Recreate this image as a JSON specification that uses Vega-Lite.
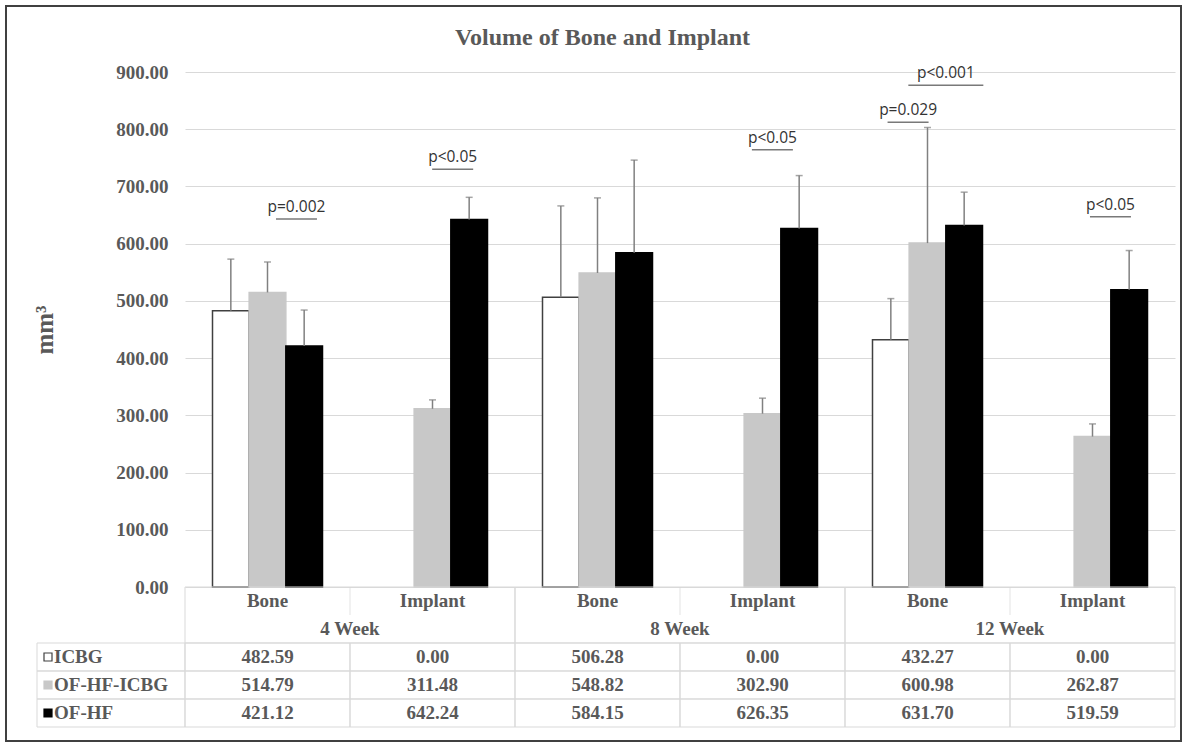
{
  "$schema": "https://vega.github.io/schema/vega-lite/v6.json",
  "width": 1175,
  "height": 735,
  "autosize": {"type": "none"},
  "padding": {"left": 6, "top": 6, "right": 5, "bottom": 6},
  "background": "white",
  "config": {"view": {"stroke": "#404040", "strokeWidth": 2}, "font": "Liberation Serif"},
  "title": {"text": "Volume of Bone and Implant", "font": "Liberation Serif", "fontSize": 24, "fontWeight": "bold", "color": "#595959", "anchor": "middle", "offset": -56, "baseline": "middle", "dx": 9},
  "datasets": {
    "bars": [
      {"week": "4 Week", "part": "Bone", "cat": "4 Week Bone", "series": "ICBG", "value": 482.59, "upper": 573},
      {"week": "4 Week", "part": "Bone", "cat": "4 Week Bone", "series": "OF-HF-ICBG", "value": 514.79, "upper": 568},
      {"week": "4 Week", "part": "Bone", "cat": "4 Week Bone", "series": "OF-HF", "value": 421.12, "upper": 484},
      {"week": "4 Week", "part": "Implant", "cat": "4 Week Implant", "series": "ICBG", "value": 0, "upper": 0},
      {"week": "4 Week", "part": "Implant", "cat": "4 Week Implant", "series": "OF-HF-ICBG", "value": 311.48, "upper": 327},
      {"week": "4 Week", "part": "Implant", "cat": "4 Week Implant", "series": "OF-HF", "value": 642.24, "upper": 681},
      {"week": "8 Week", "part": "Bone", "cat": "8 Week Bone", "series": "ICBG", "value": 506.28, "upper": 666},
      {"week": "8 Week", "part": "Bone", "cat": "8 Week Bone", "series": "OF-HF-ICBG", "value": 548.82, "upper": 680},
      {"week": "8 Week", "part": "Bone", "cat": "8 Week Bone", "series": "OF-HF", "value": 584.15, "upper": 746},
      {"week": "8 Week", "part": "Implant", "cat": "8 Week Implant", "series": "ICBG", "value": 0, "upper": 0},
      {"week": "8 Week", "part": "Implant", "cat": "8 Week Implant", "series": "OF-HF-ICBG", "value": 302.90, "upper": 330},
      {"week": "8 Week", "part": "Implant", "cat": "8 Week Implant", "series": "OF-HF", "value": 626.35, "upper": 719},
      {"week": "12 Week", "part": "Bone", "cat": "12 Week Bone", "series": "ICBG", "value": 432.27, "upper": 504},
      {"week": "12 Week", "part": "Bone", "cat": "12 Week Bone", "series": "OF-HF-ICBG", "value": 600.98, "upper": 803},
      {"week": "12 Week", "part": "Bone", "cat": "12 Week Bone", "series": "OF-HF", "value": 631.70, "upper": 690},
      {"week": "12 Week", "part": "Implant", "cat": "12 Week Implant", "series": "ICBG", "value": 0, "upper": 0},
      {"week": "12 Week", "part": "Implant", "cat": "12 Week Implant", "series": "OF-HF-ICBG", "value": 262.87, "upper": 285},
      {"week": "12 Week", "part": "Implant", "cat": "12 Week Implant", "series": "OF-HF", "value": 519.59, "upper": 588}
    ],
    "annot": [
      {"cat": "4 Week Bone", "level": 643, "pos": 3.04, "label": "p=0.002", "span": 1},
      {"cat": "4 Week Implant", "level": 730, "pos": 2.8, "label": "p<0.05", "span": 1},
      {"cat": "8 Week Implant", "level": 764, "pos": 2.52, "label": "p<0.05", "span": 1},
      {"cat": "12 Week Bone", "level": 812, "pos": 1.72, "label": "p=0.029", "span": 1},
      {"cat": "12 Week Bone", "level": 877, "pos": 2.75, "label": "p<0.001", "span": 2},
      {"cat": "12 Week Implant", "level": 647, "pos": 2.74, "label": "p<0.05", "span": 1}
    ]
  },
  "resolve": {"scale": {"x": "independent", "y": "independent", "xOffset": "independent"}},
  "layer": [
    {
      "data": {"name": "bars"},
      "transform": [{"filter": "datum.value > 0"}],
      "mark": {"type": "bar", "strokeWidth": 1.5},
      "encoding": {
        "x": {"field": "cat", "type": "nominal", "scale": {"domain": ["4 Week Bone", "4 Week Implant", "8 Week Bone", "8 Week Implant", "12 Week Bone", "12 Week Implant"], "range": [179, 1169], "paddingInner": 0, "paddingOuter": 0}, "axis": null},
        "xOffset": {"field": "series", "type": "nominal", "scale": {"domain": ["ICBG", "OF-HF-ICBG", "OF-HF"], "paddingInner": 0, "paddingOuter": 0.75}},
        "y": {"field": "value", "type": "quantitative", "scale": {"domain": [0, 900], "range": [581, 66], "nice": false, "zero": false},
          "axis": {"values": [0, 100, 200, 300, 400, 500, 600, 700, 800, 900], "format": ".2f", "offset": -179, "domain": false, "ticks": false, "grid": true, "gridColor": "#d9d9d9", "gridWidth": 1, "labelFont": "Liberation Serif", "labelFontWeight": "bold", "labelFontSize": 19, "labelColor": "#595959", "labelPadding": 17, "title": "mm³", "titleFont": "Liberation Serif", "titleFontWeight": "bold", "titleFontSize": 25, "titleColor": "#595959", "titlePadding": 58}},
        "fill": {"field": "series", "type": "nominal", "scale": {"domain": ["ICBG", "OF-HF-ICBG", "OF-HF"], "range": ["#ffffff", "#c8c8c8", "#000000"]}, "legend": null},
        "stroke": {"field": "series", "type": "nominal", "scale": {"domain": ["ICBG", "OF-HF-ICBG", "OF-HF"], "range": ["#404040", "#c8c8c8", "#000000"]}, "legend": null}
      }
    },
    {
      "data": {"name": "bars"},
      "transform": [{"filter": "datum.value > 0"}],
      "mark": {"type": "rule", "color": "#808080", "strokeWidth": 1.5},
      "encoding": {
        "x": {"field": "cat", "type": "nominal", "scale": {"domain": ["4 Week Bone", "4 Week Implant", "8 Week Bone", "8 Week Implant", "12 Week Bone", "12 Week Implant"], "range": [179, 1169], "paddingInner": 0, "paddingOuter": 0}, "axis": null},
        "xOffset": {"field": "series", "type": "nominal", "scale": {"domain": ["ICBG", "OF-HF-ICBG", "OF-HF"], "paddingInner": 0, "paddingOuter": 0.75}},
        "y": {"field": "value", "type": "quantitative", "scale": {"domain": [0, 900], "range": [581, 66], "nice": false, "zero": false}, "axis": null},
        "y2": {"field": "upper"}
      }
    },
    {
      "data": {"name": "bars"},
      "transform": [{"filter": "datum.value > 0"}],
      "mark": {"type": "tick", "orient": "horizontal", "color": "#808080", "size": 7, "thickness": 1.5},
      "encoding": {
        "x": {"field": "cat", "type": "nominal", "scale": {"domain": ["4 Week Bone", "4 Week Implant", "8 Week Bone", "8 Week Implant", "12 Week Bone", "12 Week Implant"], "range": [179, 1169], "paddingInner": 0, "paddingOuter": 0}, "axis": null},
        "xOffset": {"field": "series", "type": "nominal", "scale": {"domain": ["ICBG", "OF-HF-ICBG", "OF-HF"], "paddingInner": 0, "paddingOuter": 0.75}},
        "y": {"field": "upper", "type": "quantitative", "scale": {"domain": [0, 900], "range": [581, 66], "nice": false, "zero": false}, "axis": null}
      }
    },
    {
      "data": {"name": "annot"},
      "mark": {"type": "tick", "orient": "horizontal", "color": "#404040", "thickness": 1.5},
      "encoding": {
        "x": {"field": "cat", "type": "nominal", "scale": {"domain": ["4 Week Bone", "4 Week Implant", "8 Week Bone", "8 Week Implant", "12 Week Bone", "12 Week Implant"], "range": [179, 1169], "paddingInner": 0, "paddingOuter": 0}, "axis": null},
        "xOffset": {"field": "pos", "type": "quantitative", "scale": {"domain": [0, 4.5], "range": [0, 165], "nice": false, "zero": false}},
        "y": {"field": "level", "type": "quantitative", "scale": {"domain": [0, 900], "range": [581, 66], "nice": false, "zero": false}, "axis": null},
        "size": {"field": "span", "type": "quantitative", "scale": {"domain": [1, 2], "range": [41, 75]}, "legend": null}
      }
    },
    {
      "data": {"name": "annot"},
      "mark": {"type": "text", "font": "Open Sans", "fontSize": 15.5, "color": "#333333", "baseline": "alphabetic", "dy": -7},
      "encoding": {
        "x": {"field": "cat", "type": "nominal", "scale": {"domain": ["4 Week Bone", "4 Week Implant", "8 Week Bone", "8 Week Implant", "12 Week Bone", "12 Week Implant"], "range": [179, 1169], "paddingInner": 0, "paddingOuter": 0}, "axis": null},
        "xOffset": {"field": "pos", "type": "quantitative", "scale": {"domain": [0, 4.5], "range": [0, 165], "nice": false, "zero": false}},
        "y": {"field": "level", "type": "quantitative", "scale": {"domain": [0, 900], "range": [581, 66], "nice": false, "zero": false}, "axis": null},
        "text": {"field": "label"}
      }
    },
    {
      "data": {"name": "bars"},
      "transform": [{"filter": "datum.series === 'ICBG' && datum.part === 'Bone'"}],
      "mark": {"type": "rect", "filled": false, "stroke": "#d9d9d9", "strokeWidth": 1},
      "encoding": {
        "x": {"field": "week", "type": "nominal", "scale": {"domain": ["4 Week", "8 Week", "12 Week"], "range": [179, 1169], "paddingInner": 0, "paddingOuter": 0}, "axis": null},
        "y": {"datum": "head", "type": "nominal", "scale": {"domain": ["head"], "range": [581, 637], "paddingInner": 0, "paddingOuter": 0}, "axis": null}
      }
    },
    {
      "data": {"name": "bars"},
      "transform": [{"filter": "datum.series === 'ICBG' && datum.part === 'Bone'"}],
      "mark": {"type": "text", "font": "Liberation Serif", "fontWeight": "bold", "fontSize": 19, "color": "#595959", "baseline": "middle"},
      "encoding": {
        "x": {"field": "week", "type": "nominal", "scale": {"domain": ["4 Week", "8 Week", "12 Week"], "range": [179, 1169], "paddingInner": 0, "paddingOuter": 0}, "axis": null},
        "y": {"datum": "week", "type": "nominal", "scale": {"domain": ["sub", "week"], "range": [581, 637], "paddingInner": 0, "paddingOuter": 0}, "axis": null},
        "text": {"field": "week"}
      }
    },
    {
      "data": {"name": "bars"},
      "transform": [{"filter": "datum.series === 'ICBG'"}],
      "mark": {"type": "text", "font": "Liberation Serif", "fontWeight": "bold", "fontSize": 19, "color": "#595959", "baseline": "middle"},
      "encoding": {
        "x": {"field": "cat", "type": "nominal", "scale": {"domain": ["4 Week Bone", "4 Week Implant", "8 Week Bone", "8 Week Implant", "12 Week Bone", "12 Week Implant"], "range": [179, 1169], "paddingInner": 0, "paddingOuter": 0}, "axis": null},
        "y": {"datum": "sub", "type": "nominal", "scale": {"domain": ["sub", "week"], "range": [581, 637], "paddingInner": 0, "paddingOuter": 0}, "axis": null},
        "text": {"field": "part"}
      }
    },
    {
      "data": {"name": "bars"},
      "transform": [{"filter": "datum.series === 'ICBG' && datum.part === 'Bone'"}],
      "mark": {"type": "tick", "orient": "vertical", "color": "#d9d9d9", "size": 28, "thickness": 1},
      "encoding": {
        "x": {"field": "week", "type": "nominal", "scale": {"domain": ["4 Week", "8 Week", "12 Week"], "range": [179, 1169], "paddingInner": 0, "paddingOuter": 0}, "axis": null},
        "y": {"datum": "sub", "type": "nominal", "scale": {"domain": ["sub", "week"], "range": [581, 637], "paddingInner": 0, "paddingOuter": 0}, "axis": null}
      }
    },
    {
      "data": {"name": "bars"},
      "mark": {"type": "rect", "filled": false, "stroke": "#d9d9d9", "strokeWidth": 1},
      "encoding": {
        "x": {"field": "cat", "type": "nominal", "scale": {"domain": ["4 Week Bone", "4 Week Implant", "8 Week Bone", "8 Week Implant", "12 Week Bone", "12 Week Implant"], "range": [179, 1169], "paddingInner": 0, "paddingOuter": 0}, "axis": null},
        "y": {"field": "series", "type": "nominal", "scale": {"domain": ["ICBG", "OF-HF-ICBG", "OF-HF"], "range": [637, 721], "paddingInner": 0, "paddingOuter": 0}, "axis": null}
      }
    },
    {
      "data": {"name": "bars"},
      "mark": {"type": "text", "font": "Liberation Serif", "fontWeight": "bold", "fontSize": 19, "color": "#595959", "baseline": "middle"},
      "encoding": {
        "x": {"field": "cat", "type": "nominal", "scale": {"domain": ["4 Week Bone", "4 Week Implant", "8 Week Bone", "8 Week Implant", "12 Week Bone", "12 Week Implant"], "range": [179, 1169], "paddingInner": 0, "paddingOuter": 0}, "axis": null},
        "y": {"field": "series", "type": "nominal", "scale": {"domain": ["ICBG", "OF-HF-ICBG", "OF-HF"], "range": [637, 721], "paddingInner": 0, "paddingOuter": 0}, "axis": null},
        "text": {"field": "value", "type": "quantitative", "format": ".2f"}
      }
    },
    {
      "data": {"name": "bars"},
      "transform": [{"filter": "datum.cat === '4 Week Bone'"}],
      "mark": {"type": "rect", "filled": false, "stroke": "#d9d9d9", "strokeWidth": 1},
      "encoding": {
        "x": {"datum": "legend", "type": "nominal", "scale": {"domain": ["legend"], "range": [31, 179], "paddingInner": 0, "paddingOuter": 0}, "axis": null},
        "y": {"field": "series", "type": "nominal", "scale": {"domain": ["ICBG", "OF-HF-ICBG", "OF-HF"], "range": [637, 721], "paddingInner": 0, "paddingOuter": 0}, "axis": null}
      }
    },
    {
      "data": {"name": "bars"},
      "transform": [{"filter": "datum.cat === '4 Week Bone'"}],
      "mark": {"type": "square", "size": 64, "filled": true, "opacity": 1, "strokeWidth": 1.2},
      "encoding": {
        "x": {"datum": "swatch", "type": "nominal", "scale": {"type": "point", "domain": ["swatch", "label"], "range": [42, 48], "padding": 0}, "axis": null},
        "y": {"field": "series", "type": "nominal", "scale": {"domain": ["ICBG", "OF-HF-ICBG", "OF-HF"], "range": [637, 721], "paddingInner": 0, "paddingOuter": 0}, "axis": null},
        "fill": {"field": "series", "type": "nominal", "scale": {"domain": ["ICBG", "OF-HF-ICBG", "OF-HF"], "range": ["#ffffff", "#c8c8c8", "#000000"]}, "legend": null},
        "stroke": {"field": "series", "type": "nominal", "scale": {"domain": ["ICBG", "OF-HF-ICBG", "OF-HF"], "range": ["#404040", "#c8c8c8", "#000000"]}, "legend": null}
      }
    },
    {
      "data": {"name": "bars"},
      "transform": [{"filter": "datum.cat === '4 Week Bone'"}],
      "mark": {"type": "text", "font": "Liberation Serif", "fontWeight": "bold", "fontSize": 19, "color": "#595959", "baseline": "middle", "align": "left"},
      "encoding": {
        "x": {"datum": "label", "type": "nominal", "scale": {"type": "point", "domain": ["swatch", "label"], "range": [42, 48], "padding": 0}, "axis": null},
        "y": {"field": "series", "type": "nominal", "scale": {"domain": ["ICBG", "OF-HF-ICBG", "OF-HF"], "range": [637, 721], "paddingInner": 0, "paddingOuter": 0}, "axis": null},
        "text": {"field": "series"}
      }
    }
  ]
}
